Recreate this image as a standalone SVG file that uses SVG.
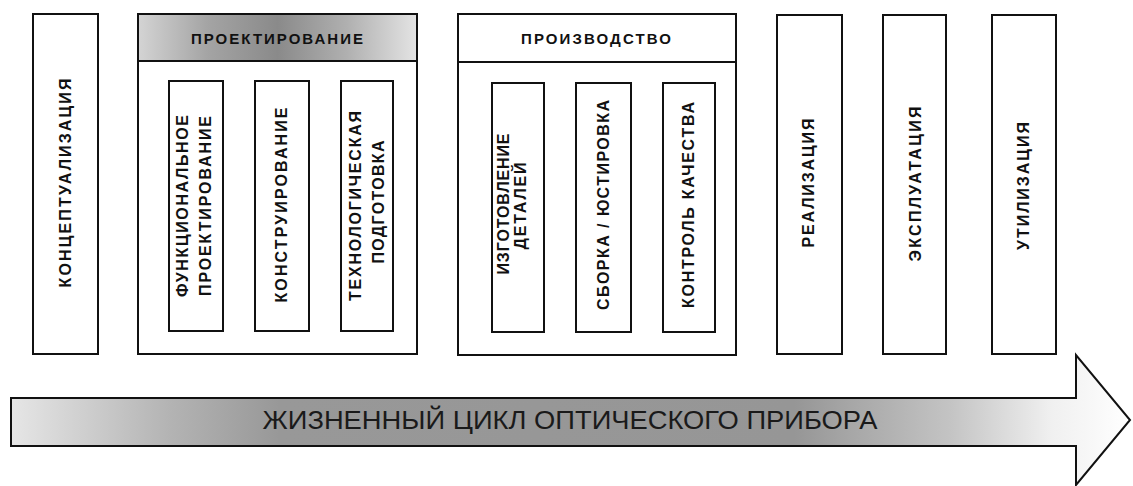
<svg xmlns="http://www.w3.org/2000/svg" width="1133" height="486" viewBox="0 0 1133 486">
<defs>
<linearGradient id="hdr" gradientUnits="userSpaceOnUse" x1="138" y1="0" x2="417" y2="0">
<stop offset="0" stop-color="#d4d4d4"/>
<stop offset="0.25" stop-color="#a4a4a4"/>
<stop offset="0.5" stop-color="#8a8a8a"/>
<stop offset="0.75" stop-color="#b0b0b0"/>
<stop offset="1" stop-color="#e4e4e4"/>
</linearGradient>
<linearGradient id="arr" gradientUnits="userSpaceOnUse" x1="11" y1="0" x2="1130" y2="0">
<stop offset="0" stop-color="#e6e6e6"/>
<stop offset="0.14" stop-color="#b4b4b4"/>
<stop offset="0.24" stop-color="#989898"/>
<stop offset="0.7" stop-color="#969696"/>
<stop offset="0.84" stop-color="#c4c4c4"/>
<stop offset="0.93" stop-color="#f0f0f0"/>
<stop offset="1" stop-color="#ffffff"/>
</linearGradient>
</defs>
<style>
.box{fill:#fff;stroke:#111;stroke-width:2}
.ln{stroke:#111;stroke-width:2;fill:none}
.v{font-family:"Liberation Sans",Arial,sans-serif;font-size:16px;font-weight:bold;fill:#111;text-anchor:middle;dominant-baseline:central}
.h{font-family:"Liberation Sans",Arial,sans-serif;font-size:15px;font-weight:bold;fill:#111;text-anchor:middle;dominant-baseline:central}
.a{font-family:"Liberation Sans",Arial,sans-serif;font-size:25px;fill:#1a1a1a;text-anchor:middle}
</style>
<rect width="1133" height="486" fill="#fff"/>

<g id="arrow">
<polygon points="11,398 1076,398 1076,355 1130,420 1076,485 1076,446 11,446" fill="url(#arr)" stroke="#111" stroke-width="2" stroke-linejoin="miter"/>
<text class="a" x="570" y="429" textLength="615" lengthAdjust="spacingAndGlyphs">ЖИЗНЕННЫЙ ЦИКЛ ОПТИЧЕСКОГО ПРИБОРА</text>
</g>

<g id="konceptualizaciya">
<rect class="box" x="33" y="14" width="65" height="340"/>
<text class="v" transform="translate(65.5,183) rotate(-90)" x="0" y="0" textLength="209" lengthAdjust="spacing">КОНЦЕПТУАЛИЗАЦИЯ</text>
</g>

<g id="proektirovanie">
<rect class="box" x="138" y="14" width="279" height="340"/>
<rect x="138" y="14" width="279" height="47" fill="url(#hdr)" stroke="#111" stroke-width="2"/>
<text class="h" x="277" y="38" textLength="172" lengthAdjust="spacing">ПРОЕКТИРОВАНИЕ</text>
</g>

<g id="funkc">
<rect class="box" x="169" y="81" width="54" height="250"/>
<text class="v" transform="translate(196,206) rotate(-90)" x="0" y="-14" textLength="182" lengthAdjust="spacing">ФУНКЦИОНАЛЬНОЕ</text>
<text class="v" transform="translate(196,206) rotate(-90)" x="0" y="9" textLength="180" lengthAdjust="spacing">ПРОЕКТИРОВАНИЕ</text>
</g>

<g id="konstr">
<rect class="box" x="255" y="81" width="54" height="250"/>
<text class="v" transform="translate(281,205) rotate(-90)" x="0" y="0" textLength="195" lengthAdjust="spacing">КОНСТРУИРОВАНИЕ</text>
</g>

<g id="tehnol">
<rect class="box" x="341" y="81" width="52" height="250"/>
<text class="v" transform="translate(367,206) rotate(-90)" x="0" y="-12" textLength="190" lengthAdjust="spacing">ТЕХНОЛОГИЧЕСКАЯ</text>
<text class="v" transform="translate(367,206) rotate(-90)" x="4" y="11" textLength="123" lengthAdjust="spacing">ПОДГОТОВКА</text>
</g>

<g id="proizvodstvo">
<rect class="box" x="458" y="14" width="278" height="341"/>
<line class="ln" x1="458" y1="62" x2="736" y2="62"/>
<text class="h" x="596" y="38" textLength="150" lengthAdjust="spacing">ПРОИЗВОДСТВО</text>
</g>

<g id="izgotovlenie">
<rect class="box" x="492" y="83" width="52" height="249"/>
<text class="v" transform="translate(518,204) rotate(-90)" x="0" y="-15" textLength="141" lengthAdjust="spacing">ИЗГОТОВЛЕНИЕ</text>
<text class="v" transform="translate(518,204) rotate(-90)" x="-2" y="2" textLength="87" lengthAdjust="spacing">ДЕТАЛЕЙ</text>
</g>

<g id="sborka">
<rect class="box" x="576" y="83" width="55" height="249"/>
<text class="v" transform="translate(603,205) rotate(-90)" x="0" y="0" textLength="210" lengthAdjust="spacing">СБОРКА / ЮСТИРОВКА</text>
</g>

<g id="kontrol">
<rect class="box" x="663" y="83" width="52" height="249"/>
<text class="v" transform="translate(688,205) rotate(-90)" x="0" y="0" textLength="206" lengthAdjust="spacing">КОНТРОЛЬ КАЧЕСТВА</text>
</g>

<g id="realizaciya">
<rect class="box" x="777" y="15" width="65" height="339"/>
<text class="v" transform="translate(808,183) rotate(-90)" x="0" y="0" textLength="129" lengthAdjust="spacing">РЕАЛИЗАЦИЯ</text>
</g>

<g id="ekspluataciya">
<rect class="box" x="883" y="15" width="63" height="339"/>
<text class="v" transform="translate(915,184) rotate(-90)" x="0" y="0" textLength="155" lengthAdjust="spacing">ЭКСПЛУАТАЦИЯ</text>
</g>

<g id="utilizaciya">
<rect class="box" x="992" y="15" width="64" height="339"/>
<text class="v" transform="translate(1023,186) rotate(-90)" x="0" y="0" textLength="128" lengthAdjust="spacing">УТИЛИЗАЦИЯ</text>
</g>

<g id="connectors"></g>
</svg>
